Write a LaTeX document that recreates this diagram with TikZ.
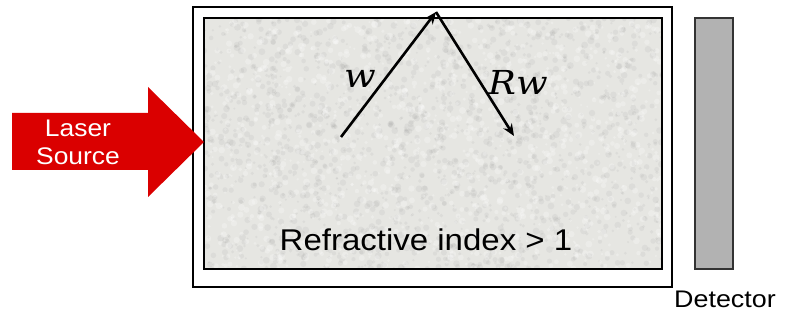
\documentclass[tikz,border=0pt]{standalone}
\usepackage{fontspec}
\setmainfont{Liberation Sans}
\newfontfamily\varfont{DejaVu Serif}
\usetikzlibrary{arrows.meta}
\definecolor{laserred}{RGB}{218,0,0}
\definecolor{medium}{RGB}{230,230,226}
\definecolor{detgray}{RGB}{178,178,178}
\tikzset{
  frame/.style={draw=black, line width=1.6pt},
  ray/.style={draw=black, line width=2.6pt, -{Stealth[length=12pt,width=10pt]}},
  sanslabel/.style={font=\fontsize{#1}{#1}\selectfont, inner sep=0pt},
  mathlabel/.style={inner sep=0pt, anchor=base west, xscale=1.12, font=\varfont\itshape\fontsize{33}{33}\selectfont},
}
\begin{document}
\begin{tikzpicture}[x=1pt,y=-1pt]
\useasboundingbox (0,0) rectangle (785,320);
% outer box
\draw[frame, fill=white] (193,7) rectangle (672,287);
% inner medium
\fill[medium] (204,18) rectangle (662,269);
\begin{scope}
\clip (204,18) rectangle (662,269);
\pgfmathsetseed{7}
\foreach \i in {1,...,1800}{
  \pgfmathsetmacro{\px}{204+458*rnd}
  \pgfmathsetmacro{\py}{18+251*rnd}
  \pgfmathsetmacro{\rr}{1+2.5*rnd}
  \fill[black!60!white, opacity=0.07] (\px,\py) circle (\rr);
}
\foreach \i in {1,...,1200}{
  \pgfmathsetmacro{\px}{204+458*rnd}
  \pgfmathsetmacro{\py}{18+251*rnd}
  \pgfmathsetmacro{\rr}{1+2.5*rnd}
  \fill[white, opacity=0.25] (\px,\py) circle (\rr);
}
\end{scope}
\draw[frame] (204,18) rectangle (662,269);
% detector
\draw[draw=black!80, line width=1.2pt, fill=detgray] (695,18) rectangle (733,269);
\node[sanslabel=24, xscale=1.12] (det) at (725,299) {Detector};
% laser arrow
\fill[laserred] (12,113) -- (148,113) -- (148,87) -- (204,142) -- (148,197) -- (148,170) -- (12,170) -- cycle;
\node[sanslabel=24, text=white, align=center, xscale=1.1] (laser) at (78,142) {Laser\\[4pt]Source};
% rays
\coordinate (ws) at (341,137);
\coordinate (apex) at (436,12);
\coordinate (re) at (514,136);
\draw[ray] (ws) -- (apex);
\draw[ray] (apex) -- (re);
\node[mathlabel] (w) at (344,88) {w};
\node[mathlabel] (rw) at (488,95) {Rw};
% label
\node[sanslabel=30, xscale=1.1] (ri) at (426,240) {Refractive index > 1};
\end{tikzpicture}
\end{document}
